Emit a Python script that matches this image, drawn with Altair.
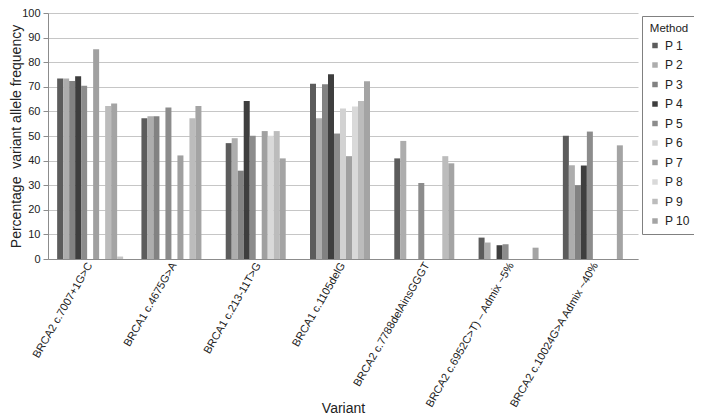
import altair as alt
import pandas as pd

variants = [
    "BRCA2 c.7007+1G>C",
    "BRCA1 c.4675G>A",
    "BRCA1 c.213-11T>G",
    "BRCA1 c.1105delG",
    "BRCA2 c.7788delAinsGGGT",
    "BRCA2 c.6952C>T) \u2013 Admix ~5%",
    "BRCA2 c.10024G>A Admix ~40%",
]
methods = ["P 1", "P 2", "P 3", "P 4", "P 5", "P 6", "P 7", "P 8", "P 9", "P 10"]
slots = methods + ["P 11"]

p1 = [73.4, 57.2, 47.1, 71.2, 40.9, 8.7, 50.1]
p2 = [73.4, 58.0, 49.1, 57.2, 48.0, 6.7, 38.1]
p3 = [72.4, 58.0, 35.9, 71.0, None, None, 30.0]
p4 = [74.3, None, 64.2, 75.1, None, 5.6, 38.0]
p5 = [70.4, 61.6, 50.1, 51.0, 30.9, 6.0, 51.8]
p6 = [None, None, None, 61.2, None, None, None]
p7 = [85.3, 42.1, 52.0, 41.8, None, None, None]
p8 = [None, None, 50.1, 62.0, None, None, None]
p9 = [62.2, 57.2, 52.0, 64.2, 41.8, None, None]
p10 = [63.2, 62.2, 40.9, 72.3, 38.9, 4.6, 46.2]
p11 = [1.0, None, None, None, None, None, None]
series = [p1, p2, p3, p4, p5, p6, p7, p8, p9, p10, p11]

colors = ["#5c5c5c", "#adadad", "#828282", "#3e3e3e", "#8c8c8c",
          "#d2d2d2", "#a0a0a0", "#d9d9d9", "#bcbcbc", "#a4a4a4", "#c4c4c4"]

rows = []
for m, vals in zip(slots, series):
    for v, val in zip(variants, vals):
        if val is not None:
            rows.append({"variant": v, "method": m, "value": val})
df = pd.DataFrame(rows)

chart = alt.Chart(df).mark_bar().encode(
    x=alt.X("variant:N", sort=variants,
            scale=alt.Scale(paddingInner=0.217, paddingOuter=0.1085),
            axis=alt.Axis(title="Variant", labelAngle=-60, ticks=False,
                          labelFontSize=11, labelPadding=4, labelColor="#222",
                          domainColor="#8c8c8c", titleFontSize=14,
                          titleFontWeight="normal", titleColor="#222",
                          titleY=153, titleBaseline="alphabetic")),
    xOffset=alt.XOffset("method:N",
                        scale=alt.Scale(domain=slots, paddingInner=0, paddingOuter=0)),
    y=alt.Y("value:Q", scale=alt.Scale(domain=[0, 100], nice=False),
            axis=alt.Axis(title="Percentage\u00a0 variant allele frequency",
                          values=list(range(0, 101, 10)), tickSize=5,
                          tickColor="#8c8c8c", domainColor="#8c8c8c",
                          gridColor="#c6c6c6", labelFontSize=11, labelPadding=3,
                          labelColor="#222", titleFontSize=14,
                          titleFontWeight="normal", titleColor="#222",
                          titleX=-39, titleBaseline="top")),
    color=alt.Color("method:N",
                    scale=alt.Scale(domain=slots, range=colors),
                    legend=alt.Legend(values=methods, title="Method", orient="none",
                                      legendX=594, legendY=3, strokeColor="#808080",
                                      padding=7, titleFontSize=11.5,
                                      titleFontWeight="normal", titleColor="#222",
                                      titleAnchor="middle", titlePadding=5,
                                      labelFontSize=12, labelColor="#222",
                                      symbolType="square", symbolSize=30,
                                      symbolStrokeWidth=0, rowPadding=7.5,
                                      labelOffset=4, fillColor="white")),
).properties(
    width=590,
    height=246,
    autosize=alt.AutoSizeParams(type="none"),
    padding={"left": 40, "top": 5, "right": 56, "bottom": 156},
).configure(
    font="Liberation Sans",
).configure_view(
    stroke=None,
)

chart.save("out.html", embed_options={"renderer": "svg", "actions": False})
